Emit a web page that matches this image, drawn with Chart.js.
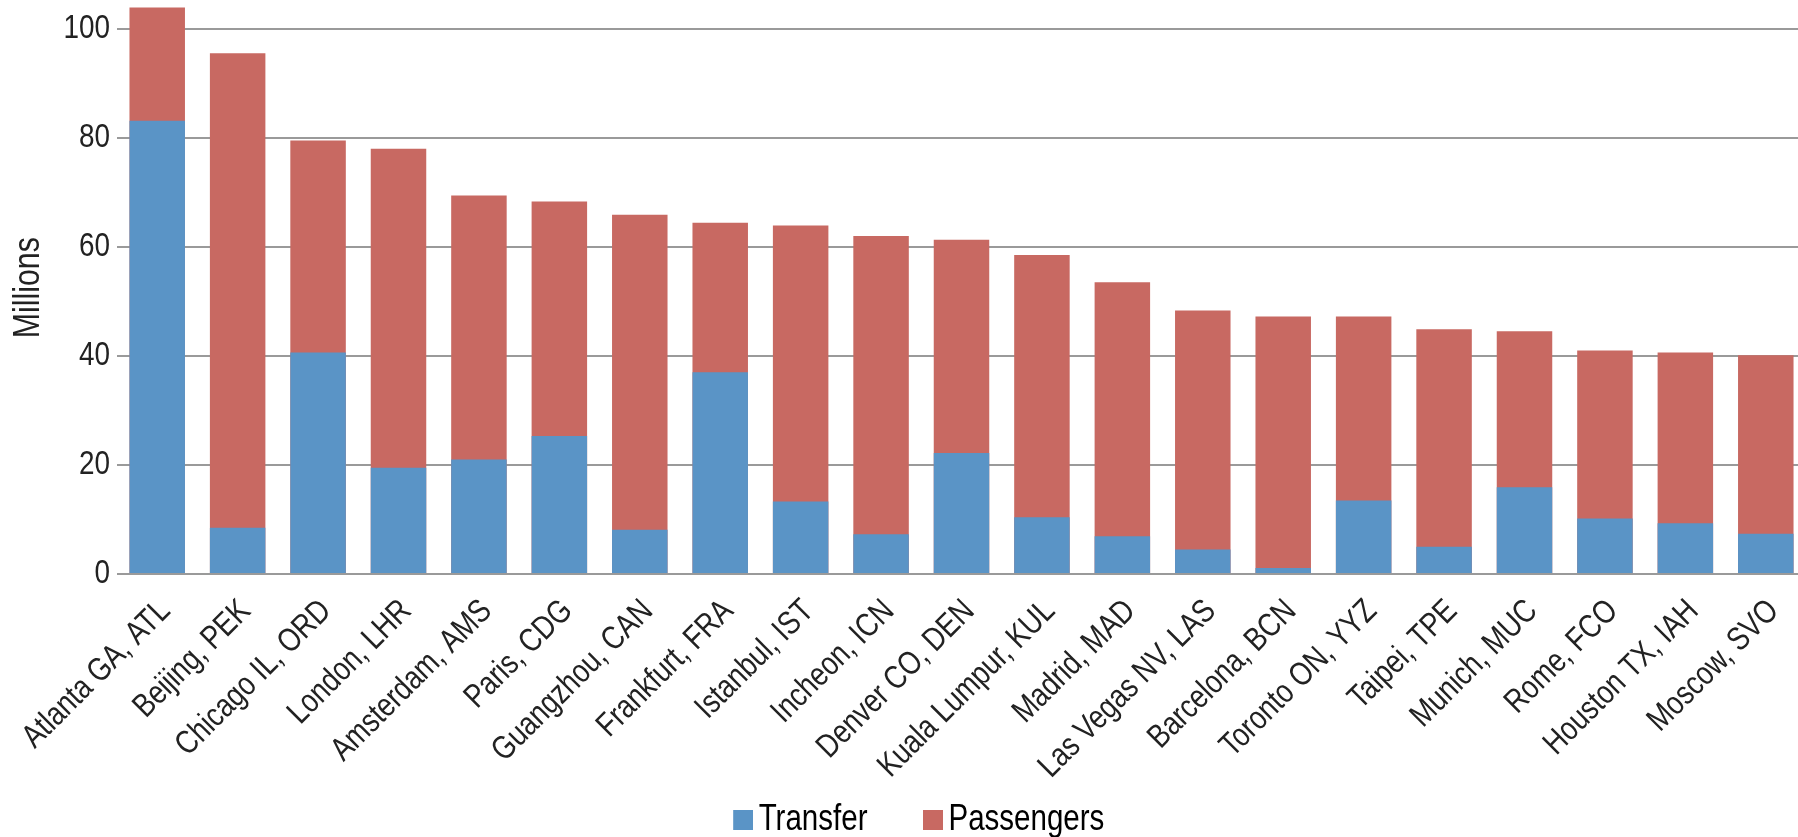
<!DOCTYPE html>
<html>
<head>
<meta charset="utf-8">
<title>Airport passengers and transfers</title>
<script src="https://cdn.jsdelivr.net/npm/chart.js@4/dist/chart.umd.min.js"></script>
<style>
  html, body { margin: 0; padding: 0; background: #ffffff; overflow: hidden; }
  #wrap { position: relative; width: 1798px; height: 837px; overflow: hidden; }
  #chart { position: absolute; left: 0; top: 0; }
</style>
</head>
<body>
<div id="wrap"><canvas id="chart" width="1806" height="848"></canvas></div>
<script>
// Airports, ordered by total passengers
const airports = [
  'Atlanta GA, ATL', 'Beijing, PEK', 'Chicago IL, ORD', 'London, LHR', 'Amsterdam, AMS',
  'Paris, CDG', 'Guangzhou, CAN', 'Frankfurt, FRA', 'Istanbul, IST', 'Incheon, ICN',
  'Denver CO, DEN', 'Kuala Lumpur, KUL', 'Madrid, MAD', 'Las Vegas NV, LAS', 'Barcelona, BCN',
  'Toronto ON, YYZ', 'Taipei, TPE', 'Munich, MUC', 'Rome, FCO', 'Houston TX, IAH', 'Moscow, SVO'
];

// Transfer passengers (millions)
const transfer = [
  83.1, 8.5, 40.6, 19.5, 21.0, 25.3, 8.1, 37.0, 13.3, 7.3,
  22.2, 10.4, 6.9, 4.5, 1.1, 13.5, 5.0, 15.9, 10.2, 9.3, 7.4
];

// Total passengers (millions)
const passengers = [
  103.9, 95.5, 79.5, 78.0, 69.4, 68.3, 65.9, 64.4, 63.9, 62.0,
  61.3, 58.5, 53.5, 48.3, 47.2, 47.2, 44.9, 44.5, 41.0, 40.6, 40.1
];

const yAxisMax = 105;
const yTickStep = 20;

const BLUE = '#5A94C6';
const RED = '#C86962';
const TEXT = '#222222';
const GRID = '#9a9a9a';
const FONT = "'Liberation Sans', Arial, sans-serif";
const NARROW = 0.82;       // horizontal condensing of all text (narrow face)

const PLOT_BOTTOM = 574;   // pixel row of the zero line
const Y_AXIS_WIDTH = 117;  // left edge of the plot area

Chart.defaults.font.family = FONT;
Chart.defaults.color = TEXT;

// Legend swatch: a 20px square sitting just left of its label text
function swatch(color) {
  const c = document.createElement('canvas');
  c.width = 64;
  c.height = 20;
  const g = c.getContext('2d');
  g.fillStyle = color;
  g.fillRect(44, 0, 20, 20);
  return c;
}

// Condensed text: squeeze glyphs along the baseline and report matching widths
function useNarrowText(ctx, factor) {
  const proto = CanvasRenderingContext2D.prototype;
  ctx.fillText = function (text, x, y, maxWidth) {
    this.save();
    this.translate(x, y);
    this.scale(factor, 1);
    if (maxWidth === undefined) {
      proto.fillText.call(this, text, 0, 0);
    } else {
      proto.fillText.call(this, text, 0, 0, maxWidth / factor);
    }
    this.restore();
  };
  ctx.measureText = function (text) {
    const m = proto.measureText.call(this, text);
    return {
      width: m.width * factor,
      actualBoundingBoxLeft: m.actualBoundingBoxLeft * factor,
      actualBoundingBoxRight: m.actualBoundingBoxRight * factor,
      actualBoundingBoxAscent: m.actualBoundingBoxAscent,
      actualBoundingBoxDescent: m.actualBoundingBoxDescent,
      fontBoundingBoxAscent: m.fontBoundingBoxAscent,
      fontBoundingBoxDescent: m.fontBoundingBoxDescent
    };
  };
}

const ctx = document.getElementById('chart').getContext('2d');
useNarrowText(ctx, NARROW);

new Chart(ctx, {
  type: 'bar',
  data: {
    labels: airports,
    datasets: [
      {
        label: 'Transfer',
        data: transfer,
        backgroundColor: BLUE,
        borderWidth: 0,
        grouped: false
      },
      {
        label: 'Passengers',
        data: passengers,
        backgroundColor: RED,
        borderWidth: 0,
        grouped: false
      }
    ]
  },
  options: {
    responsive: false,
    animation: false,
    layout: { padding: { top: 1.4, left: 0, right: 0, bottom: 0 } },
    datasets: {
      bar: { categoryPercentage: 1, barPercentage: 0.69 }
    },
    plugins: {
      tooltip: { enabled: false },
      legend: {
        position: 'bottom',
        align: 'center',
        labels: {
          usePointStyle: true,
          pointStyleWidth: 39,
          boxHeight: 20,
          padding: 24,
          color: TEXT,
          font: { size: 36 },
          generateLabels(chart) {
            return chart.data.datasets.map((ds, i) => ({
              text: ds.label,
              fillStyle: ds.backgroundColor,
              strokeStyle: ds.backgroundColor,
              lineWidth: 0,
              pointStyle: swatch(ds.backgroundColor),
              hidden: !chart.isDatasetVisible(i),
              datasetIndex: i
            }));
          }
        }
      }
    },
    scales: {
      x: {
        grid: { display: false },
        border: { display: false },
        ticks: {
          autoSkip: false,
          minRotation: 45,
          maxRotation: 45,
          padding: 10,
          labelOffset: 8,
          color: TEXT,
          font: { size: 33 }
        },
        afterFit(scale) {
          scale.paddingLeft = 0;
          scale.paddingRight = 0;
          scale.height = scale.chart.height - PLOT_BOTTOM - scale.chart.legend.height;
        }
      },
      y: {
        min: 0,
        max: yAxisMax,
        title: {
          display: true,
          text: 'Millions',
          color: TEXT,
          font: { size: 37, lineHeight: 1.2 },
          padding: { top: 6.8, bottom: 0 }
        },
        border: { display: false },
        grid: {
          color: GRID,
          lineWidth: 2,
          drawTicks: false
        },
        ticks: {
          stepSize: yTickStep,
          includeBounds: false,
          padding: 7,
          color: TEXT,
          font: { size: 34 }
        },
        afterFit(scale) {
          scale.width = Y_AXIS_WIDTH;
          scale.paddingTop = 0;
          scale.paddingBottom = 0;
        }
      }
    }
  }
});
</script>
</body>
</html>
